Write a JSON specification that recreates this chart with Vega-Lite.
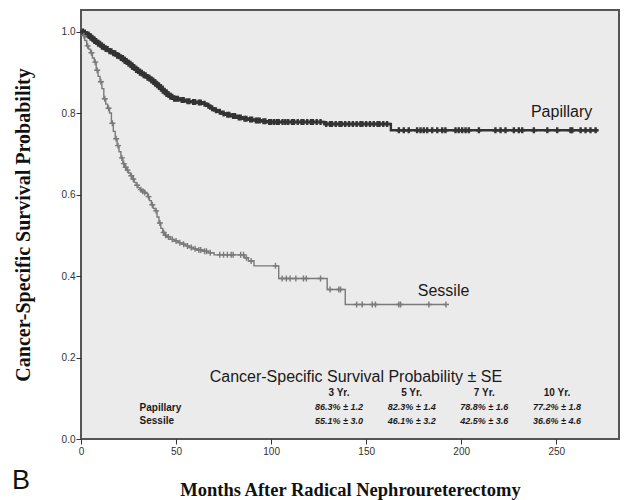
{
  "$schema": "https://vega.github.io/schema/vega-lite/v6.json",
  "width": 538,
  "height": 429,
  "autosize": "none",
  "padding": {"left": 81, "top": 10, "right": 5, "bottom": 61},
  "background": "white",
  "config": {
    "view": {"fill": "#ebebeb", "stroke": "#555555", "strokeWidth": 2},
    "font": "Liberation Sans"
  },
  "datasets": {
    "curve": [
      {"series": "Papillary", "month": 0, "surv": 1.0},
      {"series": "Papillary", "month": 1.5, "surv": 0.998},
      {"series": "Papillary", "month": 3, "surv": 0.993},
      {"series": "Papillary", "month": 5, "surv": 0.985},
      {"series": "Papillary", "month": 7, "surv": 0.977},
      {"series": "Papillary", "month": 9, "surv": 0.970},
      {"series": "Papillary", "month": 11, "surv": 0.963},
      {"series": "Papillary", "month": 13, "surv": 0.957},
      {"series": "Papillary", "month": 15, "surv": 0.952},
      {"series": "Papillary", "month": 17, "surv": 0.947},
      {"series": "Papillary", "month": 19, "surv": 0.941},
      {"series": "Papillary", "month": 21, "surv": 0.935},
      {"series": "Papillary", "month": 23, "surv": 0.928},
      {"series": "Papillary", "month": 25, "surv": 0.921},
      {"series": "Papillary", "month": 27, "surv": 0.913},
      {"series": "Papillary", "month": 29, "surv": 0.906},
      {"series": "Papillary", "month": 31, "surv": 0.899},
      {"series": "Papillary", "month": 33, "surv": 0.893},
      {"series": "Papillary", "month": 35, "surv": 0.887},
      {"series": "Papillary", "month": 37, "surv": 0.880},
      {"series": "Papillary", "month": 39, "surv": 0.872},
      {"series": "Papillary", "month": 41, "surv": 0.864},
      {"series": "Papillary", "month": 43, "surv": 0.855},
      {"series": "Papillary", "month": 45, "surv": 0.847},
      {"series": "Papillary", "month": 47, "surv": 0.840},
      {"series": "Papillary", "month": 49, "surv": 0.835},
      {"series": "Papillary", "month": 52, "surv": 0.832},
      {"series": "Papillary", "month": 55, "surv": 0.829},
      {"series": "Papillary", "month": 58, "surv": 0.827},
      {"series": "Papillary", "month": 61, "surv": 0.826},
      {"series": "Papillary", "month": 64, "surv": 0.823},
      {"series": "Papillary", "month": 66, "surv": 0.818},
      {"series": "Papillary", "month": 68, "surv": 0.812},
      {"series": "Papillary", "month": 70, "surv": 0.807},
      {"series": "Papillary", "month": 72, "surv": 0.803},
      {"series": "Papillary", "month": 74, "surv": 0.799},
      {"series": "Papillary", "month": 76, "surv": 0.796},
      {"series": "Papillary", "month": 79, "surv": 0.793},
      {"series": "Papillary", "month": 82, "surv": 0.789},
      {"series": "Papillary", "month": 85, "surv": 0.786},
      {"series": "Papillary", "month": 88, "surv": 0.784},
      {"series": "Papillary", "month": 91, "surv": 0.782},
      {"series": "Papillary", "month": 95, "surv": 0.780},
      {"series": "Papillary", "month": 98, "surv": 0.778},
      {"series": "Papillary", "month": 128, "surv": 0.773},
      {"series": "Papillary", "month": 163, "surv": 0.758},
      {"series": "Papillary", "month": 272, "surv": 0.758},
      {"series": "Sessile", "month": 0, "surv": 1.0},
      {"series": "Sessile", "month": 1, "surv": 0.99},
      {"series": "Sessile", "month": 2, "surv": 0.978},
      {"series": "Sessile", "month": 3, "surv": 0.965},
      {"series": "Sessile", "month": 4, "surv": 0.957},
      {"series": "Sessile", "month": 5, "surv": 0.948},
      {"series": "Sessile", "month": 6, "surv": 0.935},
      {"series": "Sessile", "month": 7, "surv": 0.925},
      {"series": "Sessile", "month": 8, "surv": 0.905},
      {"series": "Sessile", "month": 9, "surv": 0.89},
      {"series": "Sessile", "month": 10, "surv": 0.877},
      {"series": "Sessile", "month": 11, "surv": 0.86},
      {"series": "Sessile", "month": 12, "surv": 0.835},
      {"series": "Sessile", "month": 13, "surv": 0.822},
      {"series": "Sessile", "month": 14, "surv": 0.812},
      {"series": "Sessile", "month": 15, "surv": 0.8},
      {"series": "Sessile", "month": 16, "surv": 0.775},
      {"series": "Sessile", "month": 17, "surv": 0.755},
      {"series": "Sessile", "month": 18, "surv": 0.737},
      {"series": "Sessile", "month": 19, "surv": 0.72},
      {"series": "Sessile", "month": 20, "surv": 0.705},
      {"series": "Sessile", "month": 21, "surv": 0.69},
      {"series": "Sessile", "month": 22, "surv": 0.676},
      {"series": "Sessile", "month": 23, "surv": 0.667},
      {"series": "Sessile", "month": 24, "surv": 0.66},
      {"series": "Sessile", "month": 25, "surv": 0.653},
      {"series": "Sessile", "month": 26, "surv": 0.646},
      {"series": "Sessile", "month": 27, "surv": 0.638},
      {"series": "Sessile", "month": 28, "surv": 0.63},
      {"series": "Sessile", "month": 29, "surv": 0.623},
      {"series": "Sessile", "month": 30, "surv": 0.617},
      {"series": "Sessile", "month": 31, "surv": 0.612},
      {"series": "Sessile", "month": 32, "surv": 0.608},
      {"series": "Sessile", "month": 33, "surv": 0.605},
      {"series": "Sessile", "month": 34, "surv": 0.603},
      {"series": "Sessile", "month": 35, "surv": 0.595},
      {"series": "Sessile", "month": 36, "surv": 0.585},
      {"series": "Sessile", "month": 37, "surv": 0.575},
      {"series": "Sessile", "month": 38, "surv": 0.566},
      {"series": "Sessile", "month": 39, "surv": 0.56},
      {"series": "Sessile", "month": 40, "surv": 0.545},
      {"series": "Sessile", "month": 41, "surv": 0.53},
      {"series": "Sessile", "month": 42, "surv": 0.517},
      {"series": "Sessile", "month": 43, "surv": 0.507},
      {"series": "Sessile", "month": 44, "surv": 0.5},
      {"series": "Sessile", "month": 45, "surv": 0.496},
      {"series": "Sessile", "month": 47, "surv": 0.49},
      {"series": "Sessile", "month": 49, "surv": 0.486},
      {"series": "Sessile", "month": 51, "surv": 0.482},
      {"series": "Sessile", "month": 53, "surv": 0.478},
      {"series": "Sessile", "month": 55, "surv": 0.474},
      {"series": "Sessile", "month": 57, "surv": 0.47},
      {"series": "Sessile", "month": 59, "surv": 0.467},
      {"series": "Sessile", "month": 61, "surv": 0.464},
      {"series": "Sessile", "month": 64, "surv": 0.461},
      {"series": "Sessile", "month": 67, "surv": 0.457},
      {"series": "Sessile", "month": 70, "surv": 0.452},
      {"series": "Sessile", "month": 86, "surv": 0.445},
      {"series": "Sessile", "month": 88, "surv": 0.437},
      {"series": "Sessile", "month": 91, "surv": 0.425},
      {"series": "Sessile", "month": 104, "surv": 0.394},
      {"series": "Sessile", "month": 129.5, "surv": 0.367},
      {"series": "Sessile", "month": 139, "surv": 0.33},
      {"series": "Sessile", "month": 192, "surv": 0.33}
    ],
    "censor": [
      {"series": "Papillary", "month": 1, "surv": 1.0},
      {"series": "Papillary", "month": 2, "surv": 0.998},
      {"series": "Papillary", "month": 3, "surv": 0.993},
      {"series": "Papillary", "month": 4, "surv": 0.993},
      {"series": "Papillary", "month": 5, "surv": 0.985},
      {"series": "Papillary", "month": 6, "surv": 0.985},
      {"series": "Papillary", "month": 7, "surv": 0.977},
      {"series": "Papillary", "month": 8, "surv": 0.977},
      {"series": "Papillary", "month": 9, "surv": 0.970},
      {"series": "Papillary", "month": 10, "surv": 0.970},
      {"series": "Papillary", "month": 11, "surv": 0.963},
      {"series": "Papillary", "month": 12, "surv": 0.963},
      {"series": "Papillary", "month": 13, "surv": 0.957},
      {"series": "Papillary", "month": 14, "surv": 0.957},
      {"series": "Papillary", "month": 15, "surv": 0.952},
      {"series": "Papillary", "month": 16, "surv": 0.952},
      {"series": "Papillary", "month": 17, "surv": 0.947},
      {"series": "Papillary", "month": 18, "surv": 0.947},
      {"series": "Papillary", "month": 19, "surv": 0.941},
      {"series": "Papillary", "month": 20, "surv": 0.941},
      {"series": "Papillary", "month": 21, "surv": 0.935},
      {"series": "Papillary", "month": 22, "surv": 0.935},
      {"series": "Papillary", "month": 23, "surv": 0.928},
      {"series": "Papillary", "month": 24, "surv": 0.928},
      {"series": "Papillary", "month": 25, "surv": 0.921},
      {"series": "Papillary", "month": 26, "surv": 0.921},
      {"series": "Papillary", "month": 27, "surv": 0.913},
      {"series": "Papillary", "month": 28, "surv": 0.913},
      {"series": "Papillary", "month": 29, "surv": 0.906},
      {"series": "Papillary", "month": 30, "surv": 0.906},
      {"series": "Papillary", "month": 31, "surv": 0.899},
      {"series": "Papillary", "month": 32, "surv": 0.899},
      {"series": "Papillary", "month": 33, "surv": 0.893},
      {"series": "Papillary", "month": 34, "surv": 0.893},
      {"series": "Papillary", "month": 35, "surv": 0.887},
      {"series": "Papillary", "month": 36, "surv": 0.887},
      {"series": "Papillary", "month": 37, "surv": 0.880},
      {"series": "Papillary", "month": 38, "surv": 0.880},
      {"series": "Papillary", "month": 39, "surv": 0.872},
      {"series": "Papillary", "month": 40, "surv": 0.872},
      {"series": "Papillary", "month": 41, "surv": 0.864},
      {"series": "Papillary", "month": 42, "surv": 0.864},
      {"series": "Papillary", "month": 43, "surv": 0.855},
      {"series": "Papillary", "month": 44, "surv": 0.855},
      {"series": "Papillary", "month": 45, "surv": 0.847},
      {"series": "Papillary", "month": 46, "surv": 0.847},
      {"series": "Papillary", "month": 47, "surv": 0.840},
      {"series": "Papillary", "month": 48, "surv": 0.840},
      {"series": "Papillary", "month": 49, "surv": 0.835},
      {"series": "Papillary", "month": 50, "surv": 0.835},
      {"series": "Papillary", "month": 51, "surv": 0.835},
      {"series": "Papillary", "month": 53, "surv": 0.832},
      {"series": "Papillary", "month": 54, "surv": 0.832},
      {"series": "Papillary", "month": 56, "surv": 0.829},
      {"series": "Papillary", "month": 57, "surv": 0.829},
      {"series": "Papillary", "month": 59, "surv": 0.827},
      {"series": "Papillary", "month": 60, "surv": 0.827},
      {"series": "Papillary", "month": 62, "surv": 0.826},
      {"series": "Papillary", "month": 63, "surv": 0.826},
      {"series": "Papillary", "month": 65, "surv": 0.823},
      {"series": "Papillary", "month": 67, "surv": 0.818},
      {"series": "Papillary", "month": 69, "surv": 0.812},
      {"series": "Papillary", "month": 71, "surv": 0.807},
      {"series": "Papillary", "month": 73, "surv": 0.803},
      {"series": "Papillary", "month": 75, "surv": 0.799},
      {"series": "Papillary", "month": 77, "surv": 0.796},
      {"series": "Papillary", "month": 78, "surv": 0.796},
      {"series": "Papillary", "month": 80, "surv": 0.793},
      {"series": "Papillary", "month": 81, "surv": 0.793},
      {"series": "Papillary", "month": 83, "surv": 0.789},
      {"series": "Papillary", "month": 84, "surv": 0.789},
      {"series": "Papillary", "month": 86, "surv": 0.786},
      {"series": "Papillary", "month": 87, "surv": 0.786},
      {"series": "Papillary", "month": 89, "surv": 0.784},
      {"series": "Papillary", "month": 90, "surv": 0.784},
      {"series": "Papillary", "month": 92, "surv": 0.782},
      {"series": "Papillary", "month": 93, "surv": 0.782},
      {"series": "Papillary", "month": 94, "surv": 0.782},
      {"series": "Papillary", "month": 96, "surv": 0.780},
      {"series": "Papillary", "month": 97, "surv": 0.780},
      {"series": "Papillary", "month": 99, "surv": 0.778},
      {"series": "Papillary", "month": 100, "surv": 0.778},
      {"series": "Papillary", "month": 101.5, "surv": 0.778},
      {"series": "Papillary", "month": 103, "surv": 0.778},
      {"series": "Papillary", "month": 104, "surv": 0.778},
      {"series": "Papillary", "month": 106, "surv": 0.778},
      {"series": "Papillary", "month": 107.5, "surv": 0.778},
      {"series": "Papillary", "month": 109, "surv": 0.778},
      {"series": "Papillary", "month": 111, "surv": 0.778},
      {"series": "Papillary", "month": 112, "surv": 0.778},
      {"series": "Papillary", "month": 114, "surv": 0.778},
      {"series": "Papillary", "month": 116, "surv": 0.778},
      {"series": "Papillary", "month": 117, "surv": 0.778},
      {"series": "Papillary", "month": 119, "surv": 0.778},
      {"series": "Papillary", "month": 121, "surv": 0.778},
      {"series": "Papillary", "month": 122, "surv": 0.778},
      {"series": "Papillary", "month": 124, "surv": 0.778},
      {"series": "Papillary", "month": 126, "surv": 0.778},
      {"series": "Papillary", "month": 129, "surv": 0.773},
      {"series": "Papillary", "month": 131, "surv": 0.773},
      {"series": "Papillary", "month": 132, "surv": 0.773},
      {"series": "Papillary", "month": 134, "surv": 0.773},
      {"series": "Papillary", "month": 136, "surv": 0.773},
      {"series": "Papillary", "month": 137, "surv": 0.773},
      {"series": "Papillary", "month": 139, "surv": 0.773},
      {"series": "Papillary", "month": 141, "surv": 0.773},
      {"series": "Papillary", "month": 143, "surv": 0.773},
      {"series": "Papillary", "month": 145, "surv": 0.773},
      {"series": "Papillary", "month": 147, "surv": 0.773},
      {"series": "Papillary", "month": 148, "surv": 0.773},
      {"series": "Papillary", "month": 150, "surv": 0.773},
      {"series": "Papillary", "month": 152, "surv": 0.773},
      {"series": "Papillary", "month": 154, "surv": 0.773},
      {"series": "Papillary", "month": 156, "surv": 0.773},
      {"series": "Papillary", "month": 157, "surv": 0.773},
      {"series": "Papillary", "month": 159, "surv": 0.773},
      {"series": "Papillary", "month": 161, "surv": 0.773},
      {"series": "Papillary", "month": 167.2, "surv": 0.758},
      {"series": "Papillary", "month": 169.8, "surv": 0.758},
      {"series": "Papillary", "month": 172.4, "surv": 0.758},
      {"series": "Papillary", "month": 176.8, "surv": 0.758},
      {"series": "Papillary", "month": 178.6, "surv": 0.758},
      {"series": "Papillary", "month": 180.3, "surv": 0.758},
      {"series": "Papillary", "month": 182.1, "surv": 0.758},
      {"series": "Papillary", "month": 184.7, "surv": 0.758},
      {"series": "Papillary", "month": 187.4, "surv": 0.758},
      {"series": "Papillary", "month": 190, "surv": 0.758},
      {"series": "Papillary", "month": 191.7, "surv": 0.758},
      {"series": "Papillary", "month": 197, "surv": 0.758},
      {"series": "Papillary", "month": 198.7, "surv": 0.758},
      {"series": "Papillary", "month": 200.5, "surv": 0.758},
      {"series": "Papillary", "month": 202.3, "surv": 0.758},
      {"series": "Papillary", "month": 204, "surv": 0.758},
      {"series": "Papillary", "month": 209.3, "surv": 0.758},
      {"series": "Papillary", "month": 218, "surv": 0.758},
      {"series": "Papillary", "month": 220.7, "surv": 0.758},
      {"series": "Papillary", "month": 223.3, "surv": 0.758},
      {"series": "Papillary", "month": 227.7, "surv": 0.758},
      {"series": "Papillary", "month": 230.3, "surv": 0.758},
      {"series": "Papillary", "month": 232.1, "surv": 0.758},
      {"series": "Papillary", "month": 238.2, "surv": 0.758},
      {"series": "Papillary", "month": 245.3, "surv": 0.758},
      {"series": "Papillary", "month": 250.5, "surv": 0.758},
      {"series": "Papillary", "month": 257.5, "surv": 0.758},
      {"series": "Papillary", "month": 258.4, "surv": 0.758},
      {"series": "Papillary", "month": 262.8, "surv": 0.758},
      {"series": "Papillary", "month": 265.4, "surv": 0.758},
      {"series": "Papillary", "month": 268, "surv": 0.758},
      {"series": "Papillary", "month": 270.7, "surv": 0.758},
      {"series": "Sessile", "month": 1.5, "surv": 0.99},
      {"series": "Sessile", "month": 3.5, "surv": 0.965},
      {"series": "Sessile", "month": 5.5, "surv": 0.948},
      {"series": "Sessile", "month": 7.5, "surv": 0.925},
      {"series": "Sessile", "month": 8.5, "surv": 0.905},
      {"series": "Sessile", "month": 10.5, "surv": 0.877},
      {"series": "Sessile", "month": 12.5, "surv": 0.835},
      {"series": "Sessile", "month": 14.5, "surv": 0.812},
      {"series": "Sessile", "month": 16.5, "surv": 0.775},
      {"series": "Sessile", "month": 18.5, "surv": 0.737},
      {"series": "Sessile", "month": 19.5, "surv": 0.72},
      {"series": "Sessile", "month": 21.5, "surv": 0.69},
      {"series": "Sessile", "month": 22.5, "surv": 0.676},
      {"series": "Sessile", "month": 23.5, "surv": 0.667},
      {"series": "Sessile", "month": 24.5, "surv": 0.66},
      {"series": "Sessile", "month": 26.5, "surv": 0.646},
      {"series": "Sessile", "month": 27.5, "surv": 0.638},
      {"series": "Sessile", "month": 29.5, "surv": 0.623},
      {"series": "Sessile", "month": 31.5, "surv": 0.612},
      {"series": "Sessile", "month": 32.5, "surv": 0.608},
      {"series": "Sessile", "month": 33.5, "surv": 0.605},
      {"series": "Sessile", "month": 35.5, "surv": 0.595},
      {"series": "Sessile", "month": 37.5, "surv": 0.575},
      {"series": "Sessile", "month": 39.5, "surv": 0.56},
      {"series": "Sessile", "month": 41.5, "surv": 0.53},
      {"series": "Sessile", "month": 43.5, "surv": 0.507},
      {"series": "Sessile", "month": 44.5, "surv": 0.5},
      {"series": "Sessile", "month": 46, "surv": 0.496},
      {"series": "Sessile", "month": 48, "surv": 0.49},
      {"series": "Sessile", "month": 50, "surv": 0.486},
      {"series": "Sessile", "month": 52, "surv": 0.482},
      {"series": "Sessile", "month": 54, "surv": 0.478},
      {"series": "Sessile", "month": 56, "surv": 0.474},
      {"series": "Sessile", "month": 58, "surv": 0.47},
      {"series": "Sessile", "month": 60, "surv": 0.467},
      {"series": "Sessile", "month": 62, "surv": 0.464},
      {"series": "Sessile", "month": 63, "surv": 0.464},
      {"series": "Sessile", "month": 65, "surv": 0.461},
      {"series": "Sessile", "month": 66, "surv": 0.461},
      {"series": "Sessile", "month": 68, "surv": 0.457},
      {"series": "Sessile", "month": 73, "surv": 0.452},
      {"series": "Sessile", "month": 75, "surv": 0.452},
      {"series": "Sessile", "month": 77, "surv": 0.452},
      {"series": "Sessile", "month": 79, "surv": 0.452},
      {"series": "Sessile", "month": 80, "surv": 0.452},
      {"series": "Sessile", "month": 84, "surv": 0.452},
      {"series": "Sessile", "month": 85.5, "surv": 0.452},
      {"series": "Sessile", "month": 87, "surv": 0.445},
      {"series": "Sessile", "month": 89.5, "surv": 0.437},
      {"series": "Sessile", "month": 102.3, "surv": 0.425},
      {"series": "Sessile", "month": 105.8, "surv": 0.394},
      {"series": "Sessile", "month": 108, "surv": 0.394},
      {"series": "Sessile", "month": 110, "surv": 0.394},
      {"series": "Sessile", "month": 113, "surv": 0.394},
      {"series": "Sessile", "month": 117, "surv": 0.394},
      {"series": "Sessile", "month": 118.5, "surv": 0.394},
      {"series": "Sessile", "month": 126, "surv": 0.394},
      {"series": "Sessile", "month": 131, "surv": 0.367},
      {"series": "Sessile", "month": 135.6, "surv": 0.367},
      {"series": "Sessile", "month": 136.5, "surv": 0.367},
      {"series": "Sessile", "month": 145, "surv": 0.33},
      {"series": "Sessile", "month": 147.9, "surv": 0.33},
      {"series": "Sessile", "month": 153.2, "surv": 0.33},
      {"series": "Sessile", "month": 154.9, "surv": 0.33},
      {"series": "Sessile", "month": 167.2, "surv": 0.33},
      {"series": "Sessile", "month": 168.1, "surv": 0.33},
      {"series": "Sessile", "month": 183, "surv": 0.33},
      {"series": "Sessile", "month": 192, "surv": 0.33}
    ],
    "table": [
      {"row": "header", "col": "3 Yr.", "label": "3 Yr."},
      {"row": "header", "col": "5 Yr.", "label": "5 Yr."},
      {"row": "header", "col": "7 Yr.", "label": "7 Yr."},
      {"row": "header", "col": "10 Yr.", "label": "10 Yr."},
      {"row": "Papillary", "col": "3 Yr.", "label": "86.3% ± 1.2"},
      {"row": "Papillary", "col": "5 Yr.", "label": "82.3% ± 1.4"},
      {"row": "Papillary", "col": "7 Yr.", "label": "78.8% ± 1.6"},
      {"row": "Papillary", "col": "10 Yr.", "label": "77.2% ± 1.8"},
      {"row": "Sessile", "col": "3 Yr.", "label": "55.1% ± 3.0"},
      {"row": "Sessile", "col": "5 Yr.", "label": "46.1% ± 3.2"},
      {"row": "Sessile", "col": "7 Yr.", "label": "42.5% ± 3.6"},
      {"row": "Sessile", "col": "10 Yr.", "label": "36.6% ± 4.6"}
    ]
  },
  "layer": [
    {
      "layer": [
        {
          "data": {"name": "curve"},
          "mark": {"type": "line", "interpolate": "step-after"},
          "encoding": {
            "x": {
              "field": "month", "type": "quantitative",
              "scale": {"domain": [0, 283], "nice": false, "zero": false},
              "axis": {
                "values": [0, 50, 100, 150, 200, 250],
                "title": "Months After Radical Nephroureterectomy",
                "titleFont": "Liberation Serif", "titleFontSize": 18.5, "titleFontWeight": "bold", "titleColor": "#111111",
                "titlePadding": 24,
                "labelFont": "Liberation Sans", "labelFontSize": 10, "labelColor": "#333333", "labelPadding": 2,
                "tickColor": "#333333", "tickSize": 5, "domain": false, "grid": false, "labelFlush": false
              }
            },
            "y": {
              "field": "surv", "type": "quantitative",
              "scale": {"domain": [0, 1.053], "nice": false, "zero": false},
              "axis": {
                "values": [0, 0.2, 0.4, 0.6, 0.8, 1.0],
                "format": ".1f",
                "title": "Cancer-Specific Survival Probability",
                "titleFont": "Liberation Serif", "titleFontSize": 20, "titleFontWeight": "bold", "titleColor": "#111111",
                "titlePadding": 28,
                "labelFont": "Liberation Sans", "labelFontSize": 10, "labelColor": "#333333", "labelPadding": 1,
                "tickColor": "#333333", "tickSize": 5, "domain": false, "grid": false, "labelFlush": false
              }
            },
            "color": {"field": "series", "type": "nominal", "scale": {"domain": ["Papillary", "Sessile"], "range": ["#333333", "#7a7a7a"]}, "legend": null},
            "strokeWidth": {"field": "series", "type": "nominal", "scale": {"domain": ["Papillary", "Sessile"], "range": [2.4, 1.4]}, "legend": null}
          }
        },
        {
          "data": {"name": "censor"},
          "mark": {"type": "point", "shape": "M-1,0L1,0M0,-1L0,1", "filled": false, "size": 36, "opacity": 1},
          "encoding": {
            "x": {"field": "month", "type": "quantitative"},
            "y": {"field": "surv", "type": "quantitative"},
            "color": {"field": "series", "type": "nominal", "legend": null},
            "strokeWidth": {"field": "series", "type": "nominal", "legend": null}
          }
        },
        {
          "data": {"values": [{"label": "Papillary"}]},
          "mark": {"type": "text", "fontSize": 16, "align": "center", "baseline": "middle", "color": "#1a1a1a"},
          "encoding": {"text": {"field": "label"}, "x": {"datum": 252.8, "type": "quantitative"}, "y": {"datum": 0.803, "type": "quantitative"}}
        },
        {
          "data": {"values": [{"label": "Sessile"}]},
          "mark": {"type": "text", "fontSize": 16, "align": "center", "baseline": "middle", "color": "#1a1a1a"},
          "encoding": {"text": {"field": "label"}, "x": {"datum": 190.7, "type": "quantitative"}, "y": {"datum": 0.363, "type": "quantitative"}}
        },
        {
          "data": {"values": [{"label": "Cancer-Specific Survival Probability ± SE"}]},
          "mark": {"type": "text", "fontSize": 16, "align": "center", "baseline": "middle", "color": "#1a1a1a"},
          "encoding": {"text": {"field": "label"}, "x": {"datum": 144.6, "type": "quantitative"}, "y": {"datum": 0.153, "type": "quantitative"}}
        },
        {
          "data": {"values": [{"label": "Papillary"}]},
          "mark": {"type": "text", "fontSize": 10, "fontWeight": "bold", "align": "left", "baseline": "middle", "color": "#1a1a1a"},
          "encoding": {"text": {"field": "label"}, "x": {"datum": 30.8, "type": "quantitative"}, "y": {"datum": 0.0768, "type": "quantitative"}}
        },
        {
          "data": {"values": [{"label": "Sessile"}]},
          "mark": {"type": "text", "fontSize": 10, "fontWeight": "bold", "align": "left", "baseline": "middle", "color": "#1a1a1a"},
          "encoding": {"text": {"field": "label"}, "x": {"datum": 30.8, "type": "quantitative"}, "y": {"datum": 0.0449, "type": "quantitative"}}
        },
        {
          "data": {"values": [{"label": "B"}]},
          "mark": {"type": "text", "fontSize": 27, "align": "center", "baseline": "alphabetic", "color": "#111111"},
          "encoding": {"text": {"field": "label"}, "x": {"datum": -31.5, "type": "quantitative"}, "y": {"datum": -0.1227, "type": "quantitative"}}
        }
      ]
    },
    {
      "data": {"name": "table"},
      "encoding": {
        "x": {"field": "col", "type": "ordinal", "scale": {"type": "point", "domain": ["3 Yr.", "5 Yr.", "7 Yr.", "10 Yr."], "range": [258, 476], "padding": 0}, "axis": null},
        "y": {"field": "row", "type": "ordinal", "scale": {"type": "point", "domain": ["header", "Papillary", "Sessile"], "range": [383, 411], "padding": 0}, "axis": null},
        "text": {"field": "label"}
      },
      "layer": [
        {
          "transform": [{"filter": "datum.row === 'header'"}],
          "mark": {"type": "text", "fontSize": 10, "fontWeight": "bold", "align": "center", "baseline": "middle", "color": "#1a1a1a"}
        },
        {
          "transform": [{"filter": "datum.row !== 'header'"}],
          "mark": {"type": "text", "fontSize": 9, "fontWeight": "bold", "fontStyle": "italic", "align": "center", "baseline": "middle", "color": "#1a1a1a"}
        }
      ]
    }
  ],
  "resolve": {"scale": {"x": "independent", "y": "independent"}}
}
